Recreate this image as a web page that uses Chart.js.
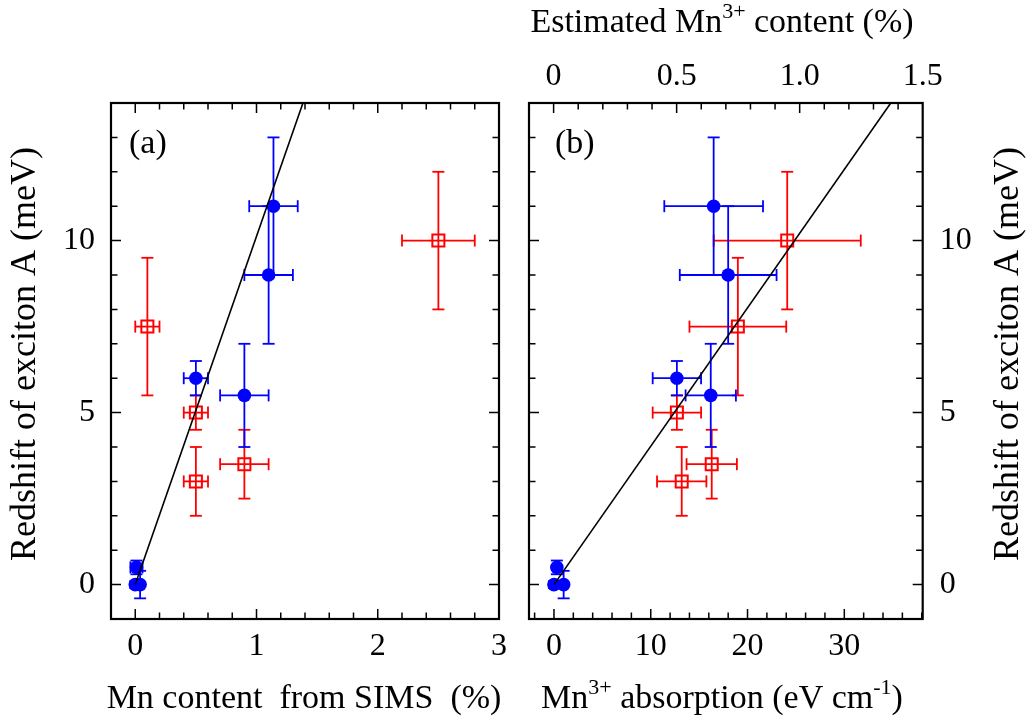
<!DOCTYPE html>
<html>
<head>
<meta charset="utf-8">
<script src="https://cdn.jsdelivr.net/npm/chart.js@4.4.0/dist/chart.umd.min.js"></script>
<style>
html,body{margin:0;padding:0;background:#fff;width:1030px;height:722px;overflow:hidden}
.wrap{position:absolute;top:0;width:515px;height:722px}
</style>
</head>
<body>
<div class="wrap" style="left:0"><canvas id="chartA" width="515" height="722"></canvas></div>
<div class="wrap" style="left:515px"><canvas id="chartB" width="515" height="722"></canvas></div>
<script>
// ---------- DATA ----------
// Panel (a): redshift vs Mn content from SIMS (%)
const simsBlueX    = [0, 0.04, 0.01, 0.5, 1.14, 1.1, 0.9];
const simsBlueY    = [0, 0, 0.5, 6, 11, 9, 5.5];
const simsBlueXErr = [0, 0, 0.05, 0.1, 0.2, 0.2, 0.2];
const simsBlueYErr = [0.1, 0.4, 0.2, 0.5, 2, 2, 1.5];
const simsRedX     = [0.1, 0.5, 0.5, 0.9, 2.5];
const simsRedY     = [7.5, 5, 3, 3.5, 10];
const simsRedXErr  = [0.1, 0.1, 0.1, 0.2, 0.3];
const simsRedYErr  = [2, 0.5, 1, 1, 2];
const fitAX = [0, 1.383];
const fitAY = [0, 14];

// Panel (b): redshift vs Mn3+ absorption (eV cm-1)
const absBlueX    = [0, 1.0, 0.3, 12.7, 16.5, 18, 16.2];
const absBlueY    = [0, 0, 0.5, 6, 11, 9, 5.5];
const absBlueXErr = [0, 0, 0, 2.5, 5.1, 5, 2.6];
const absBlueYErr = [0.1, 0.4, 0.2, 0.5, 2, 2, 1.5];
const absRedX     = [24.1, 19, 12.7, 13.2, 16.3];
const absRedY     = [10, 7.5, 5, 3, 3.5];
const absRedXErr  = [7.6, 5, 2.5, 2.55, 2.6];
const absRedYErr  = [2, 2, 0.5, 1, 1];
const fitBX = [0, 34.8];
const fitBY = [0, 14];

// Tick labels
const yTicks   = [0, 5, 10];
const xTicksA  = [0, 1, 2, 3];
const xTicksB  = [0, 10, 20, 30];
const xTopTicksB  = [0, 0.5, 1.0, 1.5];
const xTopLabelsB = ['0', '0.5', '1.0', '1.5'];

// ---------- STYLE ----------
const FONT = "'Liberation Serif', 'Times New Roman', serif";
const BLUE = '#0000ff', RED = '#ff0000';

function pts(xs, ys) { return xs.map((x, i) => ({x: x, y: ys[i]})); }

function blueSet(xs, ys, ex, ey) {
  return {type: 'scatter', data: pts(xs, ys), xErr: ex, yErr: ey,
    pointStyle: 'circle', pointRadius: 6.8, pointHoverRadius: 6.8,
    backgroundColor: BLUE, borderColor: BLUE, borderWidth: 0, order: 2};
}
function redSet(xs, ys, ex, ey) {
  return {type: 'scatter', data: pts(xs, ys), xErr: ex, yErr: ey,
    pointStyle: 'rect', pointRadius: 8.5, pointHoverRadius: 8.5,
    backgroundColor: 'rgba(0,0,0,0)', borderColor: RED, borderWidth: 2, order: 1};
}
function fitSet(xs, ys) {
  return {type: 'line', data: pts(xs, ys), borderColor: '#000', borderWidth: 1.6,
    pointRadius: 0, fill: false, tension: 0, order: 0};
}

const errorBars = {
  id: 'errorBars',
  beforeDatasetsDraw(chart) {
    const ctx = chart.ctx, xs = chart.scales.x, ys = chart.scales.y, cap = 6;
    chart.data.datasets.forEach(ds => {
      if (!ds.xErr) return;
      ctx.save();
      ctx.strokeStyle = ds.borderColor;
      ctx.lineWidth = 1.8;
      const seg = (a, b, c, d) => { ctx.beginPath(); ctx.moveTo(a, b); ctx.lineTo(c, d); ctx.stroke(); };
      ds.data.forEach((p, i) => {
        const px = xs.getPixelForValue(p.x), py = ys.getPixelForValue(p.y);
        const ey = ds.yErr[i], ex = ds.xErr[i];
        if (ey > 0) {
          const y1 = ys.getPixelForValue(p.y + ey), y2 = ys.getPixelForValue(p.y - ey);
          seg(px, y1, px, y2); seg(px - cap, y1, px + cap, y1); seg(px - cap, y2, px + cap, y2);
        }
        if (ex > 0) {
          const x1 = xs.getPixelForValue(p.x - ex), x2 = xs.getPixelForValue(p.x + ex);
          seg(x1, py, x2, py); seg(x1, py - cap, x1, py + cap); seg(x2, py - cap, x2, py + cap);
        }
      });
      ctx.restore();
    });
  }
};

function drawRich(ctx, parts, x, y, size, rotate) {
  ctx.save();
  ctx.translate(x, y);
  if (rotate) ctx.rotate(-Math.PI / 2);
  ctx.fillStyle = '#000';
  ctx.textBaseline = 'alphabetic';
  ctx.textAlign = 'left';
  const supSize = Math.round(size * 0.64);
  let w = 0;
  parts.forEach(p => { ctx.font = (p.sup ? supSize : size) + 'px ' + FONT; w += ctx.measureText(p.t).width; });
  let cx = -w / 2;
  parts.forEach(p => {
    ctx.font = (p.sup ? supSize : size) + 'px ' + FONT;
    ctx.fillText(p.t, cx, p.sup ? -size * 0.42 : 0);
    cx += ctx.measureText(p.t).width;
  });
  ctx.restore();
}

function tickMarks(ctx, scale, side, area, step, majors) {
  const eps = 1e-6;
  const start = Math.ceil((scale.min - eps) / step) * step;
  ctx.beginPath();
  for (let k = 0; ; k++) {
    const v = +(start + k * step).toFixed(6);
    if (v > scale.max + eps) break;
    if (Math.abs(v - scale.min) < eps || Math.abs(v - scale.max) < eps) continue;
    const isMajor = majors.some(m => Math.abs(m - v) < eps);
    const len = isMajor ? 10 : 6.5;
    const p = scale.getPixelForValue(v);
    if (side === 'bottom') { ctx.moveTo(p, area.bottom); ctx.lineTo(p, area.bottom - len); }
    if (side === 'top') { ctx.moveTo(p, area.top); ctx.lineTo(p, area.top + len); }
    if (side === 'left') { ctx.moveTo(area.left, p); ctx.lineTo(area.left + len, p); }
    if (side === 'right') { ctx.moveTo(area.right, p); ctx.lineTo(area.right - len, p); }
  }
  ctx.stroke();
}

function makeDecor(cfg) {
  return {
    id: 'decor',
    afterDraw(chart) {
      const ctx = chart.ctx, a = chart.chartArea;
      ctx.save();
      ctx.strokeStyle = '#000';
      ctx.lineWidth = 1.5;
      tickMarks(ctx, chart.scales.x, 'bottom', a, cfg.xStep, cfg.xMajors);
      tickMarks(ctx, chart.scales[cfg.topScale], 'top', a, cfg.topStep, cfg.topMajors);
      tickMarks(ctx, chart.scales.y, 'left', a, 1, yTicks);
      tickMarks(ctx, chart.scales.y, 'right', a, 1, yTicks);
      ctx.lineWidth = 2.2;
      ctx.strokeRect(a.left, a.top, a.right - a.left, a.bottom - a.top);
      ctx.restore();
      // panel label
      ctx.save();
      ctx.fillStyle = '#000';
      ctx.font = '34px ' + FONT;
      ctx.textBaseline = 'alphabetic';
      ctx.textAlign = 'left';
      ctx.fillText(cfg.panel, cfg.panelX, 153);
      ctx.restore();
      cfg.titles.forEach(t => drawRich(ctx, t.parts, t.x, t.y, t.size, t.rotate));
    }
  };
}

function axisTicksCfg(extra) {
  return Object.assign({color: '#000', font: {family: FONT, size: 32}, maxRotation: 0, autoSkip: false}, extra);
}
const noGrid = {display: false, drawTicks: false};
const noBorder = {display: false};

// ---------- CHART A ----------
new Chart(document.getElementById('chartA'), {
  type: 'scatter',
  data: {datasets: [
    fitSet(fitAX, fitAY),
    redSet(simsRedX, simsRedY, simsRedXErr, simsRedYErr),
    blueSet(simsBlueX, simsBlueY, simsBlueXErr, simsBlueYErr)
  ]},
  options: {
    responsive: false, animation: false, events: [],
    layout: {padding: 0},
    plugins: {legend: {display: false}, tooltip: {enabled: false}},
    scales: {
      x: {type: 'linear', position: 'bottom', min: -0.2, max: 3, grid: noGrid, border: noBorder,
        ticks: axisTicksCfg({padding: 8}),
        afterBuildTicks: s => { s.ticks = xTicksA.map(v => ({value: v})); },
        afterFit: s => { s.height = 103; }},
      xTop: {type: 'linear', position: 'top', min: -0.2, max: 3, grid: noGrid, border: noBorder,
        ticks: {display: false}, afterFit: s => { s.height = 103; }},
      y: {type: 'linear', position: 'left', min: -1, max: 14, grid: noGrid, border: noBorder,
        ticks: axisTicksCfg({padding: 16}),
        afterBuildTicks: s => { s.ticks = yTicks.map(v => ({value: v})); },
        afterFit: s => { s.width = 111; }},
      yRight: {type: 'linear', position: 'right', min: -1, max: 14, grid: noGrid, border: noBorder,
        ticks: {display: false}, afterFit: s => { s.width = 11; }}
    }
  },
  plugins: [errorBars, makeDecor({
    xStep: 0.2, xMajors: xTicksA, topScale: 'xTop', topStep: 0.2, topMajors: xTicksA,
    panel: '(a)', panelX: 129,
    titles: [
      {parts: [{t: 'Mn content  from SIMS  (%)'}], x: 304, y: 708, size: 34},
      {parts: [{t: 'Redshift of exciton A (meV)'}], x: 35, y: 354, size: 36, rotate: true}
    ]
  })]
});

// ---------- CHART B ----------
new Chart(document.getElementById('chartB'), {
  type: 'scatter',
  data: {datasets: [
    fitSet(fitBX, fitBY),
    redSet(absRedX, absRedY, absRedXErr, absRedYErr),
    blueSet(absBlueX, absBlueY, absBlueXErr, absBlueYErr)
  ]},
  options: {
    responsive: false, animation: false, events: [],
    layout: {padding: 0},
    plugins: {legend: {display: false}, tooltip: {enabled: false}},
    scales: {
      x: {type: 'linear', position: 'bottom', min: -2.58, max: 38.1, grid: noGrid, border: noBorder,
        ticks: axisTicksCfg({padding: 8}),
        afterBuildTicks: s => { s.ticks = xTicksB.map(v => ({value: v})); },
        afterFit: s => { s.height = 103; }},
      xTop: {type: 'linear', position: 'top', min: -0.1, max: 1.5, grid: noGrid, border: noBorder,
        ticks: axisTicksCfg({padding: 7, callback: (v, i) => xTopLabelsB[i]}),
        afterBuildTicks: s => { s.ticks = xTopTicksB.map(v => ({value: v})); },
        afterFit: s => { s.height = 103; }},
      y: {type: 'linear', position: 'left', min: -1, max: 14, grid: noGrid, border: noBorder,
        ticks: {display: false}, afterFit: s => { s.width = 14; }},
      yRight: {type: 'linear', position: 'right', min: -1, max: 14, grid: noGrid, border: noBorder,
        ticks: axisTicksCfg({padding: 17}),
        afterBuildTicks: s => { s.ticks = yTicks.map(v => ({value: v})); },
        afterFit: s => { s.width = 107.3; }}
    }
  },
  plugins: [errorBars, makeDecor({
    xStep: 2, xMajors: xTicksB, topScale: 'xTop', topStep: 0.1, topMajors: xTopTicksB,
    panel: '(b)', panelX: 40,
    titles: [
      {parts: [{t: 'Mn'}, {t: '3+', sup: true}, {t: ' absorption (eV cm'}, {t: '-1', sup: true}, {t: ')'}], x: 207, y: 708, size: 34},
      {parts: [{t: 'Estimated Mn'}, {t: '3+', sup: true}, {t: ' content (%)'}], x: 207, y: 32, size: 34},
      {parts: [{t: 'Redshift of exciton A (meV)'}], x: 503, y: 354, size: 36, rotate: true}
    ]
  })]
});
</script>
</body>
</html>
